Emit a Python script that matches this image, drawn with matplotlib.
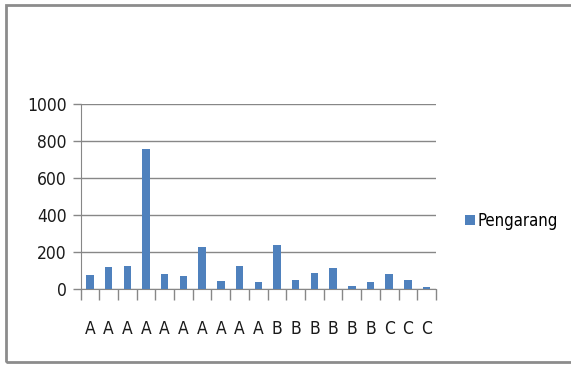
import numpy as np
import matplotlib.pyplot as plt
from matplotlib.patches import Rectangle

plt.rcParams['font.family'] = ['DejaVu Sans']
plt.rcParams['font.stretch'] = 'condensed'

# jumlah per pengarang
labels = ['A'] * 10 + ['B'] * 6 + ['C'] * 3
values = [76, 119, 126, 758, 83, 70, 229, 45, 126, 40,
          236, 47, 88, 112, 14, 40, 83, 47, 9]
series_name = 'Pengarang'
yticks = [0, 200, 400, 600, 800, 1000]

W, H = 571, 365
fig = plt.figure(figsize=(W / 100, H / 100), dpi=100)
ax = fig.add_axes([80.5 / W, 1 - 289 / H, (436 - 80.5) / W, (289 - 104) / H])

x = np.arange(len(values))
bars = ax.bar(x, values, width=0.4, color='#4f81bd', zorder=3, label=series_name)

ax.set_xlim(-0.5, len(values) - 0.5)
ax.set_ylim(0, 1000)
ax.set_yticks(yticks)
ax.set_yticklabels([str(v) for v in yticks], fontsize=12.5, color='#1a1a1a')
ax.yaxis.grid(True, color='#878787', lw=1, zorder=0)

# categories centered, tick marks on the category boundaries
ax.set_xticks(x)
ax.set_xticklabels(labels, fontsize=12.5, color='#1a1a1a')
ax.tick_params(axis='x', length=0, pad=22)
ax.set_xticks(np.arange(len(values) + 1) - 0.5, minor=True)
ax.tick_params(axis='x', which='minor', length=8, width=1, color='#878787', direction='out')
ax.tick_params(axis='y', length=6, width=1, color='#878787', pad=4)

for side in ['top', 'right']:
    ax.spines[side].set_visible(False)
ax.spines['left'].set_color('#878787')
ax.spines['bottom'].set_color('#878787')

leg = fig.legend(handles=[bars], labels=[series_name], loc='center left',
                 bbox_to_anchor=(465 / W, 1 - 221 / H), frameon=False,
                 fontsize=12, handlelength=0.6, handleheight=0.6,
                 handletextpad=0.15, borderaxespad=0, borderpad=0)

# chart border
fig.patches.append(Rectangle((6 / W, 3 / H), 1.0, 1 - 8 / H, transform=fig.transFigure,
                             fill=False, edgecolor='#8c8c8c', lw=2))

fig.savefig('out.png', dpi=100)
